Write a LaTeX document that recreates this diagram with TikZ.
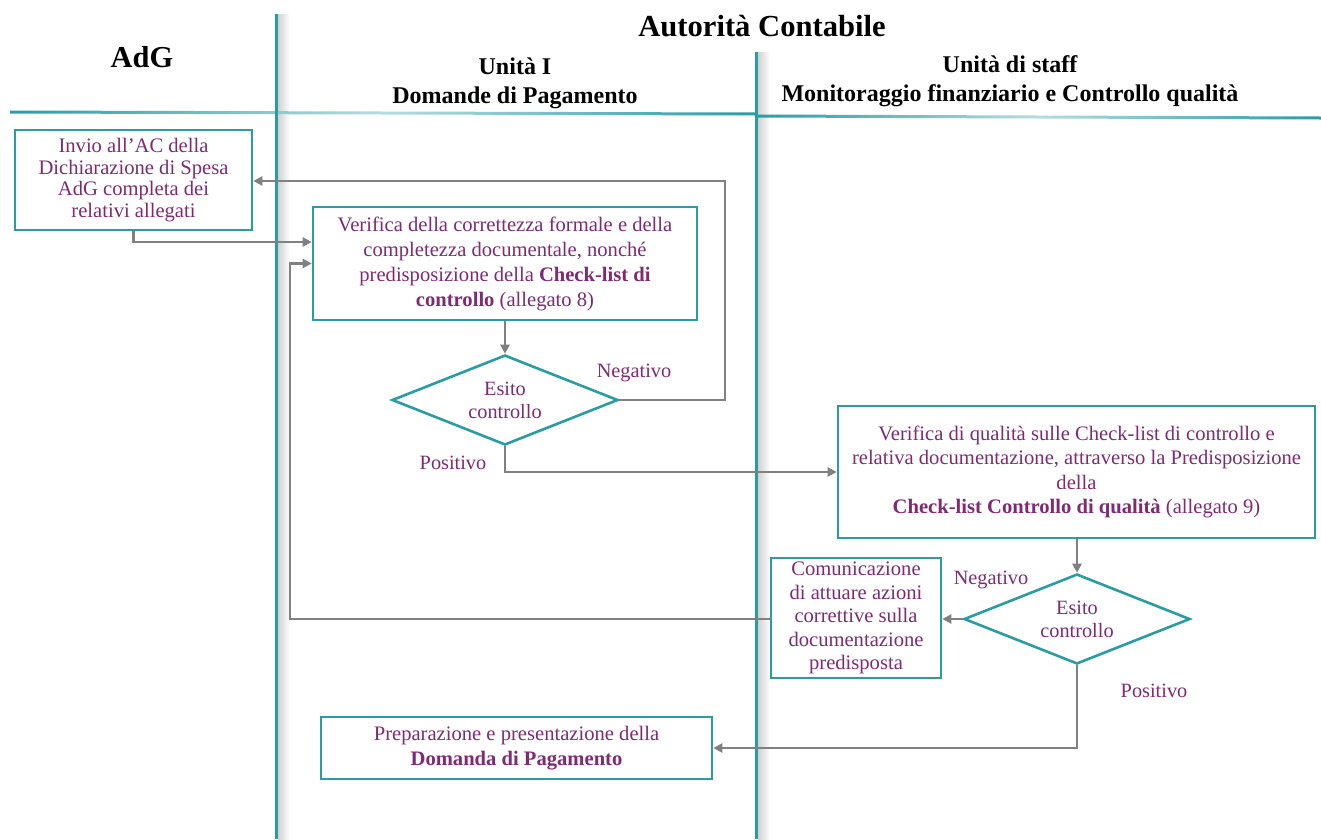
\documentclass[tikz,border=0pt]{standalone}
\usepackage{fontspec}
\setmainfont{Liberation Serif}
\usetikzlibrary{shapes.geometric,arrows.meta,calc}
\definecolor{teal1}{HTML}{2A9CA4}
\definecolor{tealL}{HTML}{B5DCDF}
\definecolor{purp}{HTML}{7E2B74}
\definecolor{arrg}{HTML}{808080}
\tikzset{
  x=1pt,y=-1pt,
  box/.style={draw=teal1,line width=2.6pt,text=purp,align=center,inner sep=0pt,
    font=\fontsize{20.6}{25}\selectfont},
  dec/.style={diamond,aspect=2.5,draw=teal1,line width=2.6pt,text=purp,align=center,inner sep=0pt,
    minimum width=226pt,minimum height=90pt,font=\fontsize{20.3}{23}\selectfont},
  lbl/.style={text=purp,font=\fontsize{20.3}{21}\selectfont,inner sep=0pt},
  arr/.style={draw=arrg,line width=2.4pt,-{Triangle[length=9pt,width=9pt]}},
  head/.style={font=\bfseries\fontsize{24}{29}\selectfont,align=center,inner sep=0pt},
}
\begin{document}
\begin{tikzpicture}
\useasboundingbox (0,0) rectangle (1321,839);
\fill[white] (0,0) rectangle (1321,839);
% shadows of vertical lines
\shade[left color=black!18,right color=white] (278,14) rectangle (290,839);
\shade[left color=black!18,right color=white] (758,52) rectangle (770,839);
% horizontal header line
\shade[left color=teal1,right color=teal1,middle color=tealL] (10,110.5) -- (757,112.5) -- (757,115.5) -- (10,113.5) -- cycle;
\shade[left color=teal1,right color=teal1,middle color=tealL] (757,114.5) -- (1321,116.5) -- (1321,119.5) -- (757,117.5) -- cycle;
% vertical lines
\draw[teal1,line width=3pt] (276.5,14) -- (276.5,839);
\draw[teal1,line width=3pt] (756.5,52) -- (756.5,839);
% headings
\node[font=\bfseries\fontsize{30.6}{34}\selectfont,inner sep=0pt] (hAC) at (762,26) {Autorità Contabile};
\node[font=\bfseries\fontsize{30.4}{34}\selectfont,inner sep=0pt] (hAdG) at (142,57) {AdG};
\node[head] (hU1) at (515,83) {Unità I\\Domande di Pagamento};
\node[head] (hU2) at (1010,81) {Unità di staff\\Monitoraggio finanziario e Controllo qualità};
% boxes
\node[box,minimum width=237pt,minimum height=100pt,font=\fontsize{20.6}{21.7}\selectfont] (A) at (133.5,180) {Invio all’AC della\\Dichiarazione di Spesa\\AdG completa dei\\relativi allegati};
\node[box,minimum width=384pt,minimum height=113pt] (B) at (505,263.5) {Verifica della correttezza formale e della\\completezza documentale, nonché\\predisposizione della \textbf{Check-list di}\\\textbf{controllo} (allegato 8)};
\node[dec] (D1) at (505,400) {Esito\\controllo};
\node[box,minimum width=477pt,minimum height=132pt,font=\fontsize{20.6}{24.5}\selectfont] (C) at (1076.5,472) {Verifica di qualità sulle Check-list di controllo e\\relativa documentazione, attraverso la Predisposizione\\della\\\textbf{Check-list Controllo di qualità} (allegato 9)};
\node[dec] (D2) at (1077,619) {Esito\\controllo};
\node[box,minimum width=170pt,minimum height=120pt,font=\fontsize{20.6}{23.5}\selectfont] (D) at (856,618) {Comunicazione\\di attuare azioni\\correttive sulla\\documentazione\\predisposta};
\node[box,minimum width=391pt,minimum height=62pt] (E) at (516.5,748) {Preparazione e presentazione della\\\textbf{Domanda di Pagamento}};
% labels
\node[lbl] (n1) at (634,373) {Negativo};
\node[lbl] (p1) at (453,463) {Positivo};
\node[lbl] (n2) at (991,580) {Negativo};
\node[lbl] (p2) at (1154,691) {Positivo};
% bend coordinates
\coordinate (c3) at (725,181);
\coordinate (c7) at (290,263.5);
% connectors
\draw[arr] (A.south) |- ([yshift=21.5pt]B.west);
\draw[arr] (B.south) -- (D1.north);
\draw[arr] (D1.east) -| (c3) -- (c3 -| A.east);
\draw[arr] (D1.south) |- (C.west);
\draw[arr] (C.south -| D2.north) -- (D2.north);
\draw[arr] (D2.west) -- (D.east |- D2.west);
\draw[arr] (D.west |- D2.west) -| (c7) -- (B.west);
\draw[arr] (D2.south) |- (E.east);
\end{tikzpicture}
\end{document}
